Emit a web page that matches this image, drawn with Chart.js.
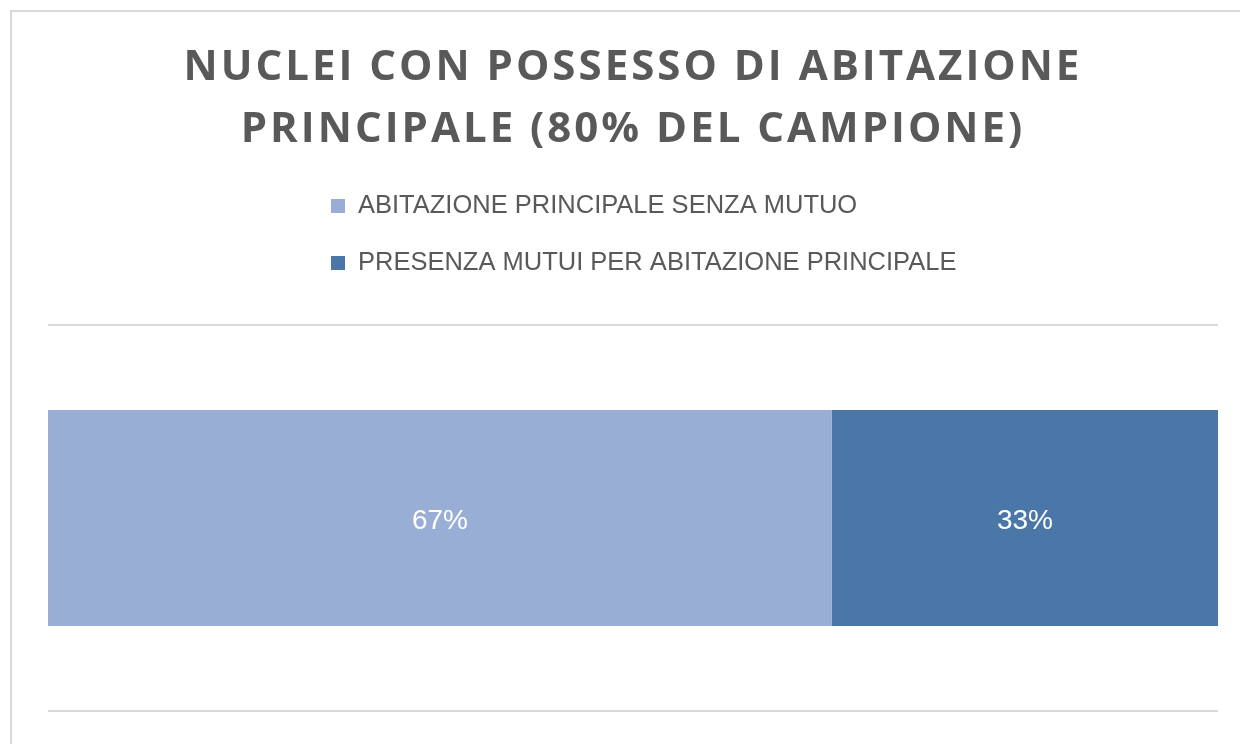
<!DOCTYPE html>
<html>
<head>
<meta charset="utf-8">
<script src="https://cdn.jsdelivr.net/npm/chart.js@4/dist/chart.umd.min.js"></script>
<style>
  html, body { margin: 0; padding: 0; background: #fff; }
  #wrap { width: 1240px; height: 744px; position: relative; }
</style>
</head>
<body>
<div id="wrap"><canvas id="barChart" width="1240" height="744"></canvas></div>
<script>
var categories = ['Nuclei'];
var seriesNames = ['ABITAZIONE PRINCIPALE SENZA MUTUO', 'PRESENZA MUTUI PER ABITAZIONE PRINCIPALE'];
var senzaMutuo = [67];
var conMutuo = [33];
var titleLines = ['NUCLEI CON POSSESSO DI ABITAZIONE', 'PRINCIPALE (80% DEL CAMPIONE)'];

var colors = ['#98aed4', '#4a76a8'];

// frame around the chart + letter spaced title
var framePlugin = {
    id: 'frame',
    beforeDraw: function(chart) {
        var ctx = chart.ctx;
        ctx.save();
        ctx.strokeStyle = '#d9d9d9';
        ctx.lineWidth = 2;
        ctx.beginPath();
        ctx.moveTo(11, 760);
        ctx.lineTo(11, 11);
        ctx.lineTo(1260, 11);
        ctx.stroke();
        ctx.restore();
        if (chart.titleBlock && !chart.titleBlock._spaced) {
            var orig = chart.titleBlock.draw;
            chart.titleBlock.draw = function() {
                ctx.save();
                ctx.letterSpacing = '3px';
                orig.call(this);
                ctx.restore();
            };
            chart.titleBlock._spaced = true;
        }
    }
};

// vertical legend under the title
var legendPlugin = {
    id: 'vlegend',
    afterDraw: function(chart) {
        var ctx = chart.ctx;
        ctx.save();
        ctx.font = '25.5px "Liberation Sans", Arial, sans-serif';
        ctx.textBaseline = 'middle';
        chart.data.datasets.forEach(function(ds, i) {
            var y = 206 + i * 57;
            ctx.fillStyle = ds.backgroundColor;
            ctx.fillRect(331, y - 7, 14, 14);
            ctx.fillStyle = '#595959';
            ctx.fillText(ds.label, 358, y);
        });
        ctx.restore();
    }
};

// percentage labels in the middle of each segment
var labelPlugin = {
    id: 'segLabels',
    afterDatasetsDraw: function(chart) {
        var ctx = chart.ctx;
        ctx.save();
        ctx.font = '28px "Liberation Sans", Arial, sans-serif';
        ctx.fillStyle = '#ffffff';
        ctx.textAlign = 'center';
        ctx.textBaseline = 'middle';
        chart.data.datasets.forEach(function(ds, i) {
            chart.getDatasetMeta(i).data.forEach(function(bar, j) {
                var cx = (bar.x + bar.base) / 2;
                ctx.fillText(ds.data[j] + '%', cx, bar.y + 3);
            });
        });
        ctx.restore();
    }
};

var ctx = document.getElementById('barChart');
new Chart(ctx, {
    type: 'bar',
    data: {
        labels: categories,
        datasets: [{
            label: seriesNames[0],
            data: senzaMutuo,
            backgroundColor: colors[0],
            borderWidth: 0
        }, {
            label: seriesNames[1],
            data: conMutuo,
            backgroundColor: colors[1],
            borderWidth: 0
        }]
    },
    options: {
        indexAxis: 'y',
        responsive: false,
        animation: false,
        categoryPercentage: 0.56,
        barPercentage: 1,
        layout: {
            padding: { left: 48, right: 22, top: 0, bottom: 33 }
        },
        scales: {
            x: {
                stacked: true,
                min: 0,
                max: 100,
                display: false
            },
            y: {
                stacked: true,
                ticks: { display: false },
                border: { display: false },
                grid: { color: '#d9d9d9', lineWidth: 2, offset: true, drawTicks: false },
                afterFit: function(scale) { scale.width = 0; }
            }
        },
        plugins: {
            legend: { display: false },
            tooltip: { enabled: false },
            title: {
                display: true,
                text: titleLines,
                color: '#595959',
                font: { family: '"Open Sans", sans-serif', size: 42, weight: 'bold', lineHeight: 62 / 42 },
                padding: { top: 37, bottom: 164 }
            }
        }
    },
    plugins: [framePlugin, legendPlugin, labelPlugin]
});
</script>
</body>
</html>
